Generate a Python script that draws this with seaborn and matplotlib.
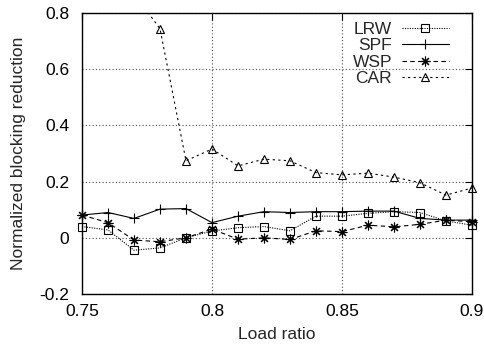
import matplotlib
matplotlib.use("Agg")
import matplotlib.pyplot as plt
from matplotlib.lines import Line2D
import numpy as np
import seaborn as sns

# Data
load_ratio = [0.75, 0.76, 0.77, 0.78, 0.79, 0.80, 0.81, 0.82,
              0.83, 0.84, 0.85, 0.86, 0.87, 0.88, 0.89, 0.90]
lrw = [0.040, 0.028, -0.044, -0.036, 0.000, 0.024, 0.036, 0.040,
       0.025, 0.077, 0.077, 0.087, 0.093, 0.090, 0.060, 0.045]
spf = [0.081, 0.090, 0.069, 0.102, 0.104, 0.054, 0.077, 0.093,
       0.090, 0.093, 0.093, 0.095, 0.095, 0.069, 0.063, 0.063]
wsp = [0.081, 0.054, -0.008, -0.014, 0.000, 0.031, -0.005, 0.000,
       -0.006, 0.025, 0.022, 0.045, 0.039, 0.048, 0.063, 0.057]
car = [1.10, 1.00, 0.87, 0.744, 0.274, 0.316, 0.256, 0.280,
       0.274, 0.232, 0.224, 0.230, 0.216, 0.196, 0.152, 0.177]

x_ticks = [0.75, 0.8, 0.85, 0.9]
x_labels = ["0.75", "0.8", "0.85", "0.9"]
y_ticks = [-0.2, 0, 0.2, 0.4, 0.6, 0.8]
y_labels = ["-0.2", "0", "0.2", "0.4", "0.6", "0.8"]

series = [
    ("LRW", lrw, (0, (1, 1.2)), "s", 5.5),
    ("SPF", spf, "-", "+", 7),
    ("WSP", wsp, (0, (4, 3)), (8, 2, 0), 7),
    ("CAR", car, (0, (2, 3)), "^", 5.5),
]

sns.set_style("white")
plt.rcParams["font.family"] = ["Liberation Sans", "DejaVu Sans"]
plt.rcParams["font.size"] = 12.5

fig = plt.figure(figsize=(4.84, 3.45), dpi=100)
ax = fig.add_axes([0.1694, 0.1478, 0.9752 - 0.1694, 0.9623 - 0.1478])

ymin, ymax = -0.2, 0.8
handles = []
for name, vals, ls, mk, ms in series:
    # line (clipped at the plot border)
    sns.lineplot(x=load_ratio, y=vals, color="black", linestyle=ls,
                 linewidth=0.8, ax=ax, legend=False)
    # markers (not clipped, only points inside the y range)
    xs = [x for x, v in zip(load_ratio, vals) if ymin <= v <= ymax]
    vs = [v for v in vals if ymin <= v <= ymax]
    sns.lineplot(x=xs, y=vs, color="black", linestyle="", marker=mk,
                 markersize=ms, markerfacecolor="none", markeredgecolor="black",
                 markeredgewidth=0.8, clip_on=False, ax=ax, legend=False)
    handles.append(Line2D([], [], color="black", linestyle=ls, linewidth=0.8,
                          marker=mk, markersize=ms, markerfacecolor="none",
                          markeredgecolor="black", markeredgewidth=0.8, label=name))

ax.set_xlim(0.75, 0.9)
ax.set_ylim(ymin, ymax)
ax.set_xticks(x_ticks)
ax.set_xticklabels(x_labels)
ax.set_yticks(y_ticks)
ax.set_yticklabels(y_labels)
ax.tick_params(direction="in", length=5, width=0.8, top=True, right=True,
               labelsize=12.5, colors="black")
ax.tick_params(axis="y", pad=9)
ax.tick_params(axis="x", pad=7)
for s in ax.spines.values():
    s.set_color("black")
    s.set_linewidth(1.0)
ax.grid(True, color="0.3", linestyle=(0, (1, 2)), linewidth=0.8)

ax.set_xlabel("Load ratio", fontsize=12.5, labelpad=6)
ax.set_ylabel("Normalized blocking reduction", fontsize=12.5, labelpad=10)

leg = ax.legend(handles=handles, loc="upper right", bbox_to_anchor=(0.949, 0.98),
                frameon=False, markerfirst=False, handlelength=2.7,
                handletextpad=0.55, labelspacing=0.06, borderaxespad=0,
                borderpad=0.2, fontsize=12.5)

fig.savefig("out.png", dpi=100)
